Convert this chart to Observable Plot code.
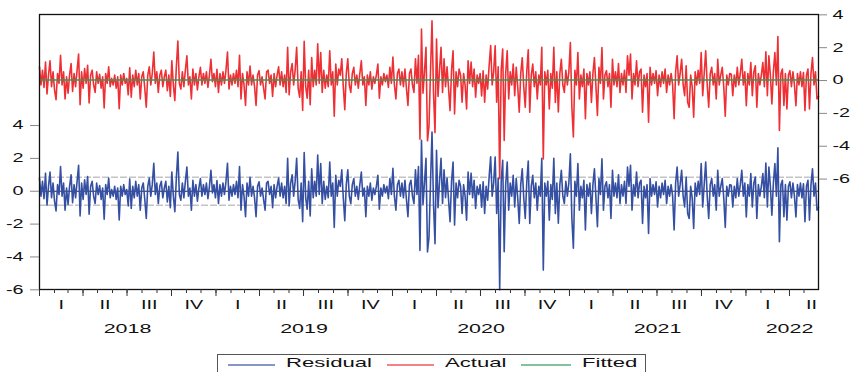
<!DOCTYPE html>
<html><head><meta charset="utf-8">
<script src="https://cdn.jsdelivr.net/npm/d3@7"></script>
<script src="https://cdn.jsdelivr.net/npm/@observablehq/plot@0.6"></script>
<style>
body{margin:0;background:#fff;font-family:"Liberation Sans",Arial,sans-serif;}
#wrap{position:relative;width:851px;height:372px;overflow:hidden;background:#fff;}
#legend{position:absolute;left:217px;top:354px;width:429px;height:26px;border:1px solid #555;box-sizing:border-box;background:#fff;}
.sw{position:absolute;top:9px;height:0;border-top:2px solid;opacity:0.6;}
.lt{position:absolute;top:0px;font-size:13px;line-height:15px;transform:scaleX(1.7);transform-origin:0 0;color:#111;white-space:nowrap;}
</style></head>
<body>
<div id="wrap">
  <div id="chart"></div>
  <div id="legend">
    <div class="sw" style="left:10px;width:47px;border-color:#3550a2"></div>
    <div class="lt" style="left:68px">Residual</div>
    <div class="sw" style="left:169px;width:47px;border-color:#ee3035"></div>
    <div class="lt" style="left:227px">Actual</div>
    <div class="sw" style="left:303px;width:50px;border-color:#2e9a5a"></div>
    <div class="lt" style="left:364px">Fitted</div>
  </div>
</div>
<script>
// ---- data ----
const residualValues = [
0.8,-0.3,0.6,-0.45,1.1,-0.85,0.3,1.17,-0.4,0.5,-0.6,-1.2,0.4,-0.2,1.5,-0.3,0.5,-1.15,0.2,-0.8,
0.3,1.0,-0.7,0.4,-0.4,0.6,1.58,-1.5,0.5,-0.5,0.7,-0.2,0.9,-1.4,0.3,0.6,-0.3,-0.75,0.5,-0.2,
0.35,-0.5,0.2,-1.7,0.4,-0.2,0.8,-0.4,0.1,-0.3,0.3,-0.5,0.2,-1.75,0.3,-0.3,0.4,-0.2,0.1,-0.9,
0.75,-1.05,0.3,-0.4,0.6,-0.3,0.4,-1.15,0.2,0.5,-0.5,-1.65,0.3,0.8,-0.3,0.4,1.7,-0.2,0.5,-0.75,
0.3,0.6,-0.4,0.2,0.6,-0.65,0.3,-1.0,1.17,-0.3,-1.25,0.8,2.38,-0.2,-0.55,0.5,-0.4,0.6,1.47,-0.3,
0.2,-1.15,0.67,-0.3,0.4,-0.6,0.2,0.77,-0.3,0.4,-0.2,0.5,-0.45,0.3,1.27,-0.1,0.4,-0.4,0.65,-0.75,
0.4,-0.3,0.5,-0.2,0.6,1.7,-0.55,0.3,-0.3,0.4,-0.2,0.6,-0.4,1.5,-1.15,0.4,-0.3,-1.55,0.5,-0.3,
0.85,-0.3,0.3,-0.4,-1.55,0.3,0.57,-0.3,0.2,-0.5,-1.15,0.5,0.6,-0.2,0.3,-1.0,0.4,-0.4,0.3,0.8,
-0.3,0.5,-0.4,0.3,-0.75,2.0,-0.9,0.5,1.0,-0.3,0.6,2.0,-0.5,-1.05,0.5,-1.85,2.36,-0.4,-1.1,0.6,
-1.5,1.37,-0.4,0.6,-0.3,2.2,-0.2,1.68,-0.75,0.6,-0.5,0.3,-0.4,1.78,-0.3,0.5,-2.2,0.97,-0.3,0.67,
0.3,1.3,-0.4,-1.8,0.4,1.3,-0.3,-0.75,0.4,0.77,-0.3,0.3,-0.5,0.4,1.17,-0.3,0.2,-1.55,0.3,-0.3,
0.5,-0.55,0.2,-0.2,0.3,0.97,-1.1,0.2,-0.3,0.4,-0.1,0.3,-0.45,0.77,-0.2,1.4,-0.3,-1.15,0.4,0.67,
-0.3,0.5,-0.4,0.67,-0.5,-1.55,0.4,0.67,-0.3,-0.75,1.3,-0.2,1.5,-3.6,3.1,-0.8,0.5,2.0,-3.7,-2.8,
0.5,3.6,-0.8,-3.2,2.5,-1.0,0.6,2.0,-0.75,1.3,-0.4,0.8,-0.5,-1.86,0.6,1.78,-2.06,0.5,-0.4,0.67,
0.3,-1.35,0.4,-0.3,-1.76,1.17,-0.2,1.1,-0.4,0.67,-1.05,0.3,-0.2,0.4,-0.97,0.57,-1.35,0.3,-0.55,0.9,
2.1,-0.3,0.5,2.08,-1.35,0.8,-6.0,0.6,1.88,-3.68,0.4,1.78,-1.15,0.5,-0.3,0.97,-0.95,0.77,-0.4,-1.96,
0.4,1.36,-0.4,-1.66,0.5,1.84,-1.96,0.3,0.97,-0.4,0.5,-1.15,0.3,-0.3,2.0,-4.8,0.5,-0.3,0.6,-1.76,
0.4,-0.5,2.0,-1.36,0.5,-1.95,0.4,1.27,-0.3,-0.75,0.6,-0.3,0.5,2.28,-1.66,-3.47,0.6,-0.3,1.68,-1.15,
0.3,-0.4,0.67,-2.36,0.4,-0.3,0.5,-1.36,0.4,1.37,-0.4,-2.16,0.77,-0.2,1.98,-1.15,0.3,0.57,-0.4,0.4,
-1.66,1.27,-0.3,0.5,-0.4,1.0,-0.75,0.4,-0.3,0.6,-0.75,1.47,0.3,1.58,-1.15,0.4,-0.3,1.17,-0.4,0.5,
0.67,-1.96,0.3,-0.4,0.4,-2.57,0.77,-0.3,0.4,-0.2,0.57,-0.95,0.3,-0.4,0.5,-0.2,0.67,-0.75,0.3,-0.3,
0.4,-0.3,-2.36,0.5,1.47,-0.3,0.4,1.27,-0.3,-0.95,0.87,-1.36,-1.66,0.3,-0.4,-2.26,0.5,-0.3,0.6,-0.2,
1.68,-0.95,0.4,1.78,-0.3,-1.66,0.4,0.77,-0.3,0.4,-1.15,1.27,-0.3,0.3,0.77,-0.4,-2.2,0.3,-0.3,0.4,
0.36,-0.95,0.3,-0.4,0.77,-0.3,0.4,1.27,-0.3,0.5,-1.56,0.4,-0.3,1.07,-0.95,0.5,0.87,-1.66,0.4,-0.3,
0.3,1.07,-0.4,1.72,-0.95,1.47,0.3,-1.46,0.5,1.68,-0.3,2.65,-3.07,0.4,0.67,-1.55,0.4,-1.76,0.3,0.57,
-0.4,0.5,-0.3,-1.56,0.4,-0.3,0.5,-0.4,0.46,-1.86,0.3,0.67,-1.76,0.4,1.37,-0.3,0.5,-1.15,-1.0
];
const fittedLevel = 0.03;          // fitted series (flat)
const seBand = 0.85;               // +/- 1 S.E. dashed band on residual axis
const axisOffset = 6.74;           // right (actual/fitted) axis zero relative to left axis
const leftTicks = [4, 2, 0, -2, -4, -6];
const rightTicks = [4, 2, 0, -2, -4, -6];
const quarterNames = ["I", "II", "III", "IV"];
const yearLabels = ["2018", "2019", "2020", "2021", "2022"];
const yearLabelDates = [Date.UTC(2018,6,2), Date.UTC(2019,6,2), Date.UTC(2020,6,2), Date.UTC(2021,6,2), Date.UTC(2022,3,1)];
const startDate = new Date(Date.UTC(2018, 0, 1));
const endDate = new Date(Date.UTC(2022, 4, 31));

// ---- build tables ----
const n = residualValues.length;
const step = (endDate - startDate) / (n - 1);
const rows = residualValues.map((r, i) => ({
  date: new Date(+startDate + i * step),
  residual: r,
  actual: r + fittedLevel,
  fitted: fittedLevel
}));
const afterEnd = new Date(+endDate + 1);
const monthTicks = d3.utcMonth.range(startDate, afterEnd);
const quarterTicks = d3.utcMonth.every(3).range(startDate, afterEnd);
const quarterRows = quarterTicks.map(q => ({
  date: new Date((+q + +d3.utcMonth.offset(q, 3)) / 2),
  label: quarterNames[q.getUTCMonth() / 3]
}));
const yearRows = yearLabels.map((l, i) => ({date: new Date(yearLabelDates[i]), label: l}));

const chart = Plot.plot({
  width: 851,
  height: 350,
  marginLeft: 39, marginRight: 33, marginTop: 14, marginBottom: 61,
  style: {fontFamily: "'Liberation Sans', Arial, sans-serif", fontSize: "12px", background: "white", overflow: "visible"},
  x: {type: "utc", domain: [startDate, endDate], range: [39, 818]},
  y: {domain: [-6, 10.76], range: [289.3, 14]},
  marks: [
    Plot.ruleY([-seBand, seBand], {stroke: "#c4c4c4", strokeWidth: 1.6, strokeDasharray: "7,2"}),
    Plot.ruleY([0], {stroke: "#1e1e3a", strokeWidth: 1}),
    Plot.lineY(rows, {x: "date", y: "residual", stroke: "#3550a2", strokeWidth: 1.6}),
    Plot.lineY(rows, {x: "date", y: d => d.actual + axisOffset, stroke: "#ee3035", strokeWidth: 1.6}),
    Plot.lineY(rows, {x: "date", y: d => d.fitted + axisOffset, stroke: "#2e9a5a", strokeWidth: 1.4}),
    Plot.frame({stroke: "#111", strokeWidth: 1.3}),
    Plot.axisY({anchor: "left", ticks: leftTicks, tickSize: 9, tickPadding: 7, tickFormat: d => String(d), stroke: "#888", fill: "#111", label: null}),
    Plot.axisY({anchor: "right", ticks: rightTicks.map(v => v + axisOffset), tickSize: 8, tickPadding: 6,
      tickFormat: d => String(Math.round(d - axisOffset)), stroke: "#888", fill: "#111", label: null}),
    Plot.axisX({ticks: monthTicks, tickSize: 4, tickFormat: () => "", stroke: "#333", label: null}),
    Plot.axisX({ticks: quarterTicks, tickSize: 7, tickFormat: () => "", stroke: "#333", label: null}),
    Plot.text(quarterRows, {x: "date", text: "label", frameAnchor: "bottom", lineAnchor: "top", dy: 11, fontSize: 12, fill: "#111"}),
    Plot.text(yearRows, {x: "date", text: "label", frameAnchor: "bottom", lineAnchor: "top", dy: 34, fontSize: 13, fill: "#111"})
  ]
});

// widen glyphs horizontally like the reference (stretched export)
const S = 1.65;
chart.querySelectorAll("text").forEach(t => {
  const tr = t.getAttribute("transform") || "";
  const xa = parseFloat(t.getAttribute("x"));
  let extra = "";
  if (Number.isFinite(xa) && xa !== 0) { t.removeAttribute("x"); extra = ` translate(${xa},0)`; }
  t.setAttribute("transform", `${tr}${extra} scale(${S},1)`);
});
document.getElementById("chart").appendChild(chart);
</script>
</body></html>
